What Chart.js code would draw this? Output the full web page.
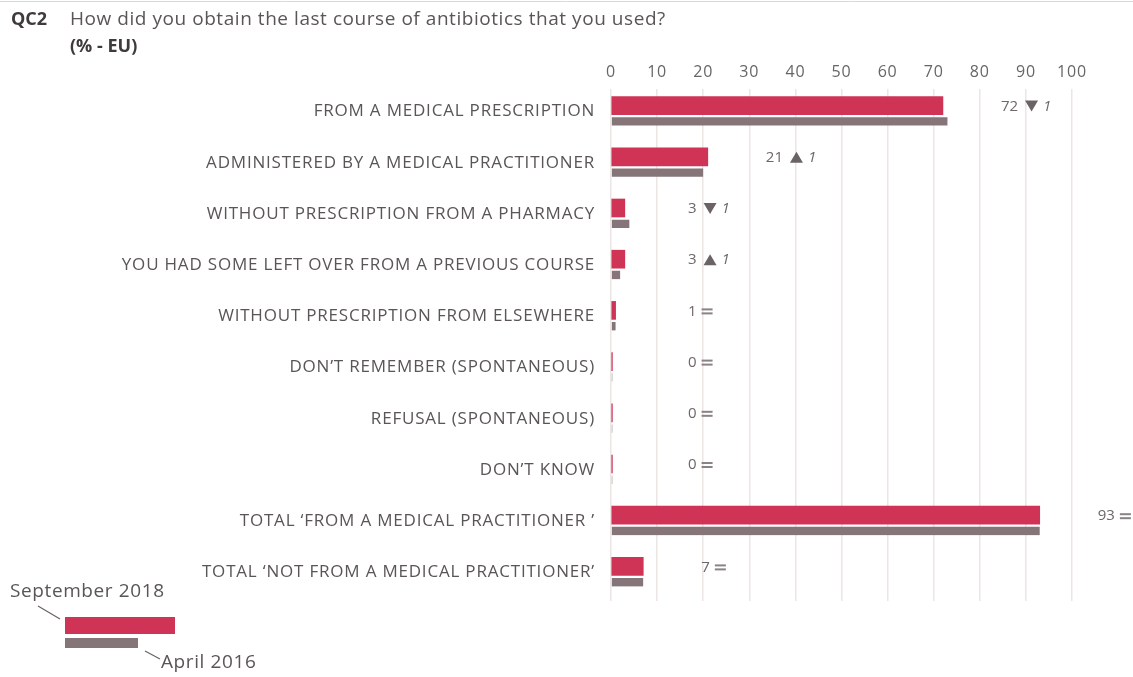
<!DOCTYPE html>
<html>
<head>
<meta charset="utf-8">
<script src="https://cdn.jsdelivr.net/npm/chart.js@4"></script>
<style>
  html, body { margin: 0; padding: 0; background: #fff; }
  #wrap { position: relative; width: 1133px; height: 677px; }
</style>
</head>
<body>
<div id="wrap"><canvas id="qc2Chart" width="1133" height="677"></canvas></div>
<script>
// Data (% - EU)
const categories = [
    'FROM A MEDICAL PRESCRIPTION',
    'ADMINISTERED BY A MEDICAL PRACTITIONER',
    'WITHOUT PRESCRIPTION FROM A PHARMACY',
    'YOU HAD SOME LEFT OVER FROM A PREVIOUS COURSE',
    'WITHOUT PRESCRIPTION FROM ELSEWHERE',
    'DON\u2019T REMEMBER (SPONTANEOUS)',
    'REFUSAL (SPONTANEOUS)',
    'DON\u2019T KNOW',
    'TOTAL \u2018FROM A MEDICAL PRACTITIONER \u2019',
    'TOTAL \u2018NOT FROM A MEDICAL PRACTITIONER\u2019'
];
const sept2018 = [72, 21, 3, 3, 1, 0.3, 0.3, 0.3, 93, 7];
const april2016 = [73, 20, 4, 2, 1, 0.3, 0.3, 0.3, 93, 7];
const shownValues = [72, 21, 3, 3, 1, 0, 0, 0, 93, 7];
const changeDir = ['down', 'up', 'down', 'up', 'same', 'same', 'same', 'same', 'same', 'same'];
const changeSize = [1, 1, 1, 1, null, null, null, null, null, null];
const xTicks = [0, 10, 20, 30, 40, 50, 60, 70, 80, 90, 100];

const RED = '#cf3356';
const GREY = '#857578';
const TEXT = '#5a5556';
const FONT = '"Open Sans", sans-serif';

// Title, legend and the value/change labels
const decorPlugin = {
    id: 'decor',
    beforeDraw(chart) {
        // the original typeface is a bit wider than Open Sans
        chart.ctx.letterSpacing = '0.8px';
    },
    afterDraw(chart) {
        const ctx = chart.ctx;
        const x = chart.scales.x;
        const y = chart.scales.y;
        ctx.save();
        ctx.letterSpacing = '0px';

        // thin rule at the very top
        ctx.strokeStyle = '#d9d9d9';
        ctx.lineWidth = 1;
        ctx.beginPath();
        ctx.moveTo(0, 1.5);
        ctx.lineTo(1133, 1.5);
        ctx.stroke();

        // header
        ctx.textBaseline = 'middle';
        ctx.fillStyle = '#3f3a3b';
        ctx.font = 'bold 18px ' + FONT;
        ctx.fillText('QC2', 11, 20);
        ctx.fillStyle = TEXT;
        ctx.font = '19px ' + FONT;
        ctx.letterSpacing = '0.55px';
        ctx.fillText('How did you obtain the last course of antibiotics that you used?', 70, 20);
        ctx.letterSpacing = '0px';
        ctx.fillStyle = '#3f3a3b';
        ctx.font = 'bold 18px ' + FONT;
        ctx.fillText('(% - EU)', 70, 47);

        // value labels
        shownValues.forEach((v, i) => {
            const cy = y.getPixelForValue(i) - 8;
            let lx = Math.max(x.getPixelForValue(sept2018[i]) + 58, x.getPixelForValue(0) + 77);
            ctx.font = '15px ' + FONT;
            ctx.fillStyle = '#6e6667';
            ctx.textAlign = 'left';
            const txt = String(v);
            ctx.fillText(txt, lx, cy);
            lx += ctx.measureText(txt).width;
            const dir = changeDir[i];
            ctx.fillStyle = '#6b6264';
            if (dir === 'down') {
                lx += 7;
                ctx.beginPath();
                ctx.moveTo(lx, cy - 6);
                ctx.lineTo(lx + 13, cy - 6);
                ctx.lineTo(lx + 6.5, cy + 5);
                ctx.closePath();
                ctx.fill();
                lx += 18;
            } else if (dir === 'up') {
                lx += 7;
                ctx.beginPath();
                ctx.moveTo(lx, cy + 5);
                ctx.lineTo(lx + 13, cy + 5);
                ctx.lineTo(lx + 6.5, cy - 6);
                ctx.closePath();
                ctx.fill();
                lx += 18;
            } else {
                lx += 5;
                ctx.fillStyle = '#8a8283';
                ctx.fillRect(lx, cy - 3, 11, 2);
                ctx.fillRect(lx, cy + 1, 11, 2);
                lx += 16;
            }
            if (changeSize[i] !== null) {
                ctx.font = 'italic 15px ' + FONT;
                ctx.fillStyle = '#6e6667';
                ctx.fillText(String(changeSize[i]), lx, cy);
            }
        });

        // legend
        ctx.font = '19px ' + FONT;
        ctx.fillStyle = TEXT;
        ctx.textAlign = 'left';
        ctx.letterSpacing = '0.6px';
        ctx.fillText('September 2018', 10, 592);
        ctx.fillText('April 2016', 161, 663);
        ctx.letterSpacing = '0px';
        ctx.strokeStyle = '#6b6264';
        ctx.lineWidth = 1.2;
        ctx.beginPath();
        ctx.moveTo(38, 606);
        ctx.lineTo(60, 619);
        ctx.moveTo(145, 651);
        ctx.lineTo(160, 659);
        ctx.stroke();
        ctx.fillStyle = RED;
        ctx.fillRect(65, 617, 110, 17);
        ctx.fillStyle = GREY;
        ctx.fillRect(65, 638, 73, 10);

        ctx.restore();
    }
};

new Chart(document.getElementById('qc2Chart').getContext('2d'), {
    type: 'bar',
    data: {
        labels: categories,
        datasets: [
            {
                label: 'September 2018',
                data: sept2018,
                backgroundColor: RED,
                barThickness: 18,
                borderWidth: 0
            },
            {
                label: 'April 2016',
                data: april2016,
                backgroundColor: GREY,
                barThickness: 11,
                borderWidth: { top: 3, right: 0, bottom: 0, left: 0 },
                borderColor: 'rgba(0,0,0,0)',
                borderSkipped: false
            }
        ]
    },
    options: {
        indexAxis: 'y',
        responsive: false,
        animation: false,
        layout: { padding: { left: 0, right: 61, top: 0, bottom: 76 } },
        plugins: {
            legend: { display: false },
            tooltip: { enabled: false },
            title: { display: false }
        },
        scales: {
            x: {
                position: 'top',
                min: 0,
                max: 100,
                afterFit(scale) { scale.height = 89; },
                afterBuildTicks(scale) { scale.ticks = xTicks.map(v => ({ value: v })); },
                grid: { color: '#ebe5e3', lineWidth: 1.5, drawTicks: false },
                border: { display: false },
                ticks: {
                    color: '#666',
                    font: { family: FONT, size: 16 },
                    padding: 7
                }
            },
            y: {
                afterFit(scale) { scale.width = 611; },
                grid: { display: false, drawTicks: false },
                border: { display: false },
                ticks: {
                    color: TEXT,
                    font: { family: FONT, size: 17 },
                    padding: 16,
                    labelOffset: -3,
                    autoSkip: false
                }
            }
        }
    },
    plugins: [decorPlugin]
});
</script>
</body>
</html>
